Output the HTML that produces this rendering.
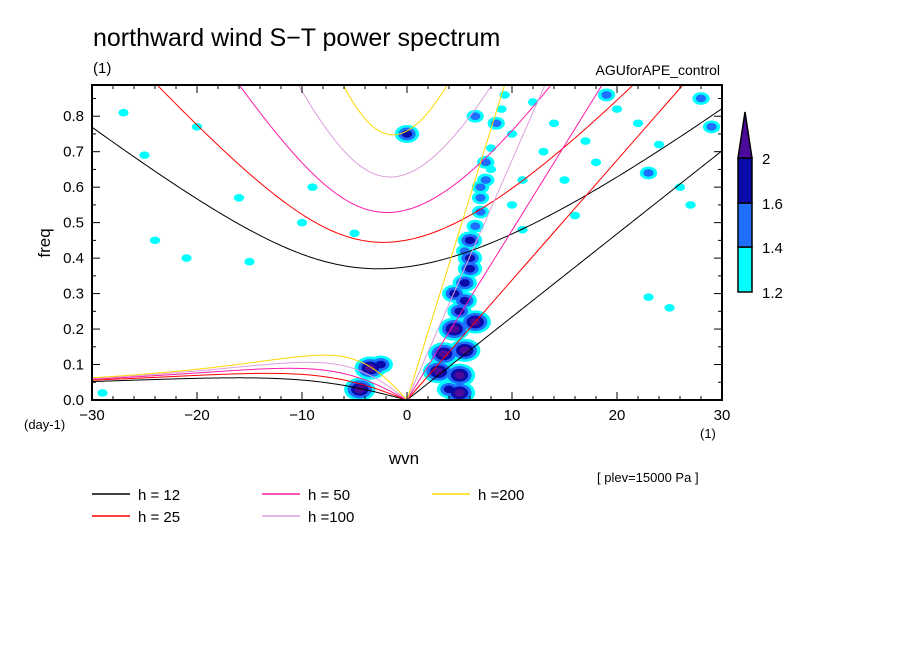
<!DOCTYPE html>
<html><head><meta charset="utf-8"><style>
body{margin:0;background:#fff;}
svg{display:block;font-family:"Liberation Sans",sans-serif;}
</style></head><body>
<svg id="chart" width="904" height="654" viewBox="0 0 904 654">
<text x="93" y="46" font-size="25">northward wind S−T power spectrum</text>
<text x="93" y="73" font-size="15">(1)</text>
<text x="720" y="75" font-size="14" text-anchor="end">AGUforAPE_control</text>
<g id="fills"></g>
<g id="curves"></g>
<rect x="92" y="85" width="630" height="315" fill="none" stroke="#000" stroke-width="2"/>
<g id="ticks"></g>
<text transform="translate(50,243) rotate(-90)" font-size="17" text-anchor="middle">freq</text>
<text x="404" y="464" font-size="17" text-anchor="middle">wvn</text>
<text x="24" y="429" font-size="13">(day-1)</text>
<text x="700" y="438" font-size="13">(1)</text>
<text x="597" y="482" font-size="13">[ plev=15000 Pa ]</text>
<g id="legend"></g>
<g id="cbar"></g>
</svg>
<script>
const hValues=[12,25,50,100,200];
const hColors=['#000000','#ff0000','#ff1aa8','#dda0dd','#ffd700'];
const xTicks=[-30,-20,-10,0,10,20,30];
const yTicks=[0,0.1,0.2,0.3,0.4,0.5,0.6,0.7,0.8];
const cbLevels=[1.2,1.4,1.6,2];
const cbColors=['#00ffff','#1e6eff','#0a0aa8','#4b0a9a'];
// blobs: wvn, freq, level(1..4)
const blobWvn=[5,5,3,3.5,5.5,4.5,6.5,5,5.5,5.5,6,5.5,6,6.5,7,7,7.5,7.5,8,8.5,9,9.3,-3.5,-4.5,-2.5,0,12,14,19,22,20,15,11,24,23,28,29,27,25,23,16,13,10,-24,-27,-20,-16,-25,-15,-5,-21,-29,4,6.5,10,11,17,18,26,-9,-10,3,4.5,6,7,8];
const blobFreq=[0.02,0.07,0.08,0.13,0.14,0.2,0.22,0.25,0.28,0.33,0.37,0.42,0.45,0.49,0.53,0.57,0.62,0.67,0.71,0.78,0.82,0.86,0.09,0.03,0.1,0.75,0.84,0.78,0.86,0.78,0.82,0.62,0.62,0.72,0.64,0.85,0.77,0.55,0.26,0.29,0.52,0.7,0.75,0.45,0.81,0.77,0.57,0.69,0.39,0.47,0.4,0.02,0.03,0.8,0.55,0.48,0.73,0.67,0.6,0.6,0.5,0.13,0.3,0.4,0.6,0.65];
const blobLevel=[4,4,4,4,4,4,4,3,3,3,3,2,3,2,2,2,2,2,1,2,1,1,4,4,3,3,1,1,2,1,1,1,1,1,2,2,2,1,1,1,1,1,1,1,1,1,1,1,1,1,1,1,3,2,1,1,1,1,1,1,1,2,3,3,2,1];

const NS='http://www.w3.org/2000/svg';
const X0=92,X1=722,Y0=400,Y1=85,FMAX=0.888;
const sx=w=>X0+(w+30)/60*(X1-X0);
const sy=f=>Y0-f/FMAX*(Y0-Y1);
function mk(tag,attrs,parent){const e=document.createElementNS(NS,tag);for(const k in attrs)e.setAttribute(k,attrs[k]);parent.appendChild(e);return e;}

const defs=mk('defs',{},document.getElementById('chart'));
const cp=mk('clipPath',{id:'pc'},defs);
mk('rect',{x:X0,y:Y1,width:X1-X0,height:Y0-Y1},cp);

const fills=document.getElementById('fills');
fills.setAttribute('clip-path','url(#pc)');
for(let j=0;j<4;j++){
  for(let i=0;i<blobWvn.length;i++){
    const L=blobLevel[i];
    if(L<=j)continue;
    const r=(L-j)*2.6+1.2;
    const e=mk('ellipse',{cx:sx(blobWvn[i]),cy:sy(blobFreq[i]),rx:r*1.35,ry:r,fill:cbColors[j]},fills);
    
    
  }
}

const g=9.81,a=6.371e6,beta=2*7.292e-5/a,C=2*Math.PI*a;
const toF=w=>w/(2*Math.PI)*86400;
const curves=document.getElementById('curves');
curves.setAttribute('clip-path','url(#pc)');
hValues.forEach((h,hi)=>{
  const c=Math.sqrt(g*h);
  let ig='',kv='',ro='';
  for(let s=-30;s<=30.001;s+=0.25){
    const k=2*Math.PI*s/C;
    let w=Math.sqrt(c*c*k*k+3*beta*c);
    for(let it=0;it<30;it++){const f=w*w*w-(c*c*k*k+3*beta*c)*w-beta*c*c*k;const d=3*w*w-(c*c*k*k+3*beta*c);w-=f/d;}
    ig+=(ig?'L':'M')+sx(s).toFixed(2)+' '+sy(toF(w)).toFixed(2);
    if(s>=0)kv+=(kv?'L':'M')+sx(s).toFixed(2)+' '+sy(toF(c*k)).toFixed(2);
    if(s<=0){const wr=-beta*k/(k*k+3*beta/c);ro+=(ro?'L':'M')+sx(s).toFixed(2)+' '+sy(toF(wr)).toFixed(2);}
  }
  [['ig',ig],['kelvin',kv],['rossby',ro]].forEach(([n,d])=>{
    const p=mk('path',{d:d,fill:'none',stroke:hColors[hi],'stroke-width':1},curves);
    
    
  });
});

const tk=document.getElementById('ticks');
for(let w=-30;w<=30;w+=2){
  const L=(w%10===0)?8:4;
  mk('line',{x1:sx(w),y1:Y0,x2:sx(w),y2:Y0-L,stroke:'#000'},tk);
  mk('line',{x1:sx(w),y1:Y1,x2:sx(w),y2:Y1+L,stroke:'#000'},tk);
}
for(let i=0;i<=17;i++){
  const f=i*0.05,L=(i%2===0)?8:4;
  mk('line',{x1:X0,y1:sy(f),x2:X0+L,y2:sy(f),stroke:'#000'},tk);
  mk('line',{x1:X1,y1:sy(f),x2:X1-L,y2:sy(f),stroke:'#000'},tk);
}
xTicks.forEach(v=>{
  const t=mk('text',{x:sx(v),y:420,'font-size':15,'text-anchor':'middle'},tk);
  t.textContent=(v<0?'−':'')+Math.abs(v);
  
  
});
yTicks.forEach(v=>{
  const t=mk('text',{x:84,y:sy(v)+5,'font-size':15,'text-anchor':'end'},tk);
  t.textContent=v.toFixed(1);
  
  
});

const lg=document.getElementById('legend');
const lpos=[[92,494],[92,516],[262,494],[262,516],[432,494]];
const llab=['h = 12','h = 25','h = 50','h =100','h =200'];
hValues.forEach((h,i)=>{
  const [x,y]=lpos[i];
  const l=mk('line',{x1:x,y1:y,x2:x+38,y2:y,stroke:hColors[i],'stroke-width':1.5},lg);
  
  
  const t=mk('text',{x:x+46,y:y+6,'font-size':15},lg);
  t.textContent=llab[i];
  
  
});

const cb=document.getElementById('cbar');
const segB=[292,247,203],segT=[247,203,158];
for(let i=0;i<3;i++){
  const r=mk('rect',{x:738,y:segT[i],width:14,height:segB[i]-segT[i],fill:cbColors[i],stroke:'#000','stroke-width':1.5},cb);
  
  
}
const tri=mk('path',{d:'M738 158 L752 158 L745 112 Z',fill:cbColors[3],stroke:'#000','stroke-width':1.5},cb);


const cby=[292,247,203,158];
cbLevels.forEach((v,i)=>{
  const t=mk('text',{x:762,y:cby[i]+6,'font-size':15},cb);
  t.textContent=String(v);
  
  
});
</script>
</body></html>
